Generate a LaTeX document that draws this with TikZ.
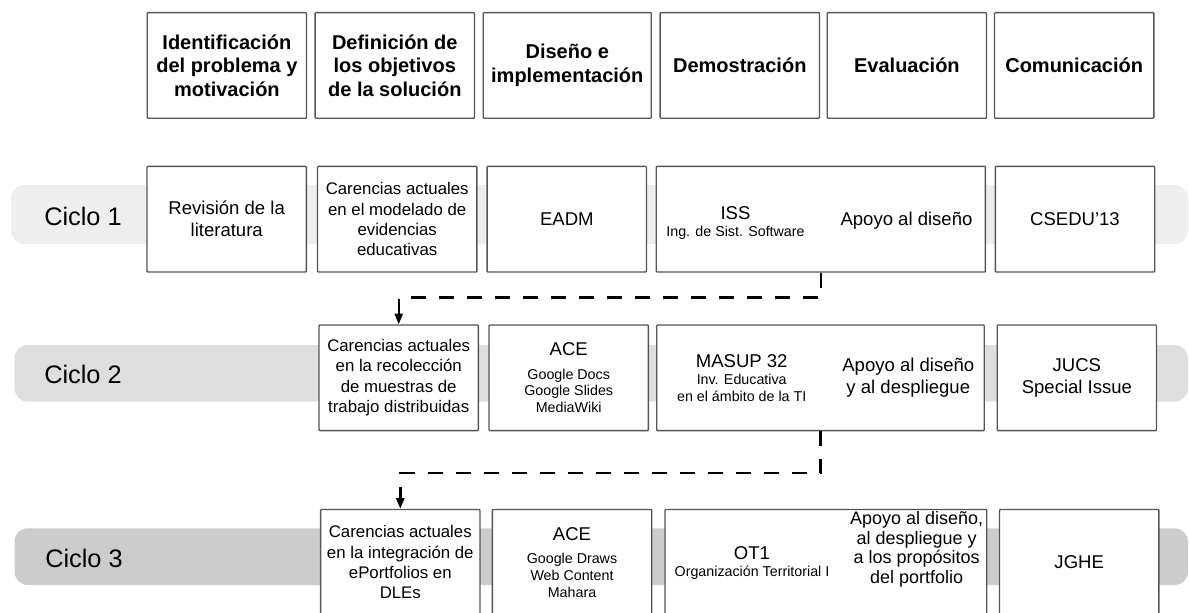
\documentclass[tikz,border=0pt]{standalone}
\usepackage{fontspec}
\setmainfont{Liberation Sans}
\usepackage{tikz}
\usetikzlibrary{arrows.meta, positioning, calc}
\tikzstyle{arrow} = [line width=1.8pt, -{Triangle[width=6pt,length=8pt]}, dash pattern=on 11.25pt off 9.75pt]

\definecolor{boxline}{HTML}{555555}
\definecolor{bandone}{HTML}{EEEEEE}
\definecolor{bandtwo}{HTML}{DEDEDE}
\definecolor{bandthree}{HTML}{CCCCCC}

\newcommand{\hdfont}{\fontsize{15}{17.6}\selectfont\bfseries}
\newcommand{\bdfont}{\fontsize{13.9}{16.5}\selectfont}
\newcommand{\cafont}{\fontsize{12.6}{15.3}\selectfont}
\newcommand{\smfont}{\fontsize{10.7}{12.5}\selectfont}
\newcommand{\cyfont}{\fontsize{19}{22}\selectfont}

\begin{document}
\begin{tikzpicture}[x=0.75pt, y=-0.75pt,
    phase/.style={rectangle, rounded corners=0.6pt, draw=boxline, line width=1pt, fill=white, inner sep=0pt, minimum width=119.5pt, minimum height=79.2pt, align=center},
    wide/.style={phase, minimum width=246pt},
    cycle/.style={font=\cyfont, inner sep=0pt},
]
\useasboundingbox (0,0) rectangle (1189,612);
\clip (0,0) rectangle (1189,612);

% Header
\node[phase, font=\hdfont] (ident) at (226.9, 65.4) {Identificación\\del problema y\\motivación};
\node[phase, font=\hdfont] (defin) at (394.8, 65.4) {Definición de\\los objetivos\\de la solución};
\node[phase, font=\hdfont, minimum width=126pt] (disen) at (567.3, 65.4) {Diseño e\\implementación};
\node[phase, font=\hdfont] (demos) at (739.8, 65.4) {Demostración};
\node[phase, font=\hdfont] (evalu) at (906.9, 65.4) {Evaluación};
\node[phase, font=\hdfont] (comun) at (1074.2, 65.4) {Comunicación};

% Bands
\fill[bandone, rounded corners=10pt] (11, 185) rectangle (1188, 244);
\fill[bandtwo, rounded corners=10pt] (14.5, 345) rectangle (1188, 401.7);
\fill[bandthree, rounded corners=10pt] (14.5, 528.3) rectangle (1188, 585);

\node[cycle] (ciclo1) at (83, 216.7) {Ciclo 1};
\node[cycle] (ciclo2) at (83, 374) {Ciclo 2};
\node[cycle] (ciclo3) at (84, 558.3) {Ciclo 3};

% Ciclo 1
\node[phase, font=\bdfont] (rev1) at (226.7, 219.2) {Revisión de la\\literatura};
\node[phase, font=\cafont] (car1) at (397.2, 219.2) {Carencias actuales\\en el modelado de\\evidencias\\educativas};
\node[phase, font=\bdfont] (eadm1) at (566.8, 219.2) {EADM};
\node[wide, minimum width=246.9pt] (iss1) at (820.8, 219.2) {};
\node[font=\smfont, align=center] (issname) at (735.5, 223) {\bdfont ISS\\Ing. de Sist. Software};
\node[font=\bdfont] (iss1eval) at (906.5, 221) {Apoyo al diseño};
\node[phase, font=\bdfont] (csedu1) at (1075, 219.2) {CSEDU'13};

% Ciclo 2
\node[phase, font=\cafont] (car2) at (398.7, 377.8) {Carencias actuales\\en la recolección\\de muestras de\\trabajo distribuidas};
\node[phase, font=\smfont] (ace2) at (568.7, 377.8) {\bdfont ACE\\[5pt]Google Docs\\Google Slides\\MediaWiki};
\node[wide, minimum width=245.7pt] (masup2) at (820.5, 377.8) {};
\node[font=\smfont, align=center] (masupname) at (741.7, 378) {\bdfont MASUP 32\\Inv. Educativa\\en el ámbito de la TI};
\node[font=\bdfont, align=center] (masup2eval) at (908.3, 377.5) {Apoyo al diseño\\y al despliegue};
\node[phase, font=\bdfont] (jucs2) at (1076.9, 377.8) {JUCS\\Special Issue};

% Ciclo 3
\node[phase, font=\cafont] (car3) at (400.3, 562.3) {Carencias actuales\\en la integración de\\ePortfolios en\\DLEs};
\node[phase, font=\smfont] (ace3) at (572, 562.3) {\bdfont ACE\\[5pt]Google Draws\\Web Content\\Mahara};
\node[wide, minimum width=241.3pt] (ot3) at (825.8, 562.3) {};
\node[font=\smfont, align=center] (otname) at (752, 563.3) {\bdfont OT1\\Organización Territorial I};
\node[font=\fontsize{13.5}{14.7}\selectfont, align=center] (ot3eval) at (916.7, 549.2) {Apoyo al diseño,\\al despliegue y\\a los propósitos\\del portfolio};
\node[phase, font=\bdfont] (jghe3) at (1079.2, 562.3) {JGHE};

% Transitions between cycles
\draw[arrow] (iss1.south) -- ++(0, 25) -| (car2.north);
\draw[arrow] (masup2.south) -- ++(0, 42) -| (car3.north);

\end{tikzpicture}
\end{document}
